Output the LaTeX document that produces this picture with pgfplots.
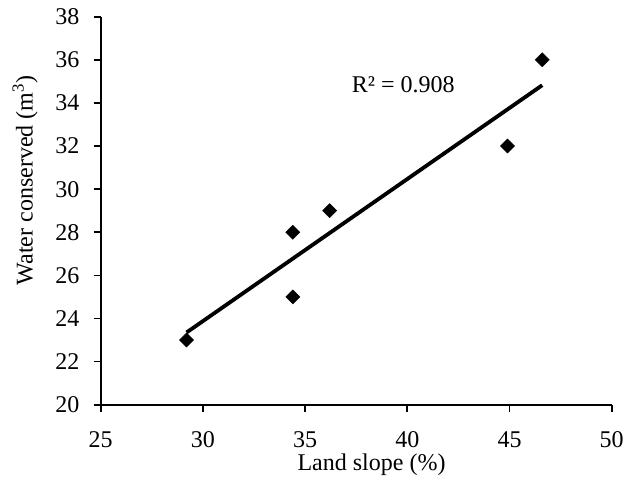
\documentclass[border=0pt]{standalone}
\usepackage{fontspec}
\setmainfont{Liberation Serif}
\usepackage{pgfplots}
\pgfplotsset{compat=1.18}

\begin{document}
\fontsize{24}{28}\selectfont
\begin{tikzpicture}
    % frame of the whole picture (1pt = 1px of the reference)
    \useasboundingbox (-100.7pt,-89.3pt) rectangle (535.3pt,404.7pt);
    \begin{axis}[
        at={(0,0)}, anchor=south west,
        scale only axis,
        width=511pt,
        height=388pt,
        xmin=25, xmax=50,
        ymin=20, ymax=38,
        xtick={25,30,...,50},
        ytick={20,22,...,38},
        axis lines=left,
        axis line style={-, line width=1.7pt, black},
        tick style={line width=1.7pt, black},
        tick align=outside,
        major tick length=7pt,
        clip=false,
        /pgf/number format/assume math mode=true,
        ticklabel style={font=\fontsize{24}{28}\selectfont},
        label style={font=\fontsize{24}{28}\selectfont},
        xticklabel style={yshift=-12pt},
        yticklabel style={xshift=-6pt},
        xlabel={Land slope (\%)},
        ylabel={Water conserved (m\textsuperscript{3})},
        xlabel style={at={(axis description cs:0.53,-0.155)}, anchor=center},
        ylabel style={at={(axis description cs:-0.148,0.578)}, anchor=center, rotate=0},
    ]
    % fitted trend line
    \addplot[black, line width=3.8pt] coordinates {(29.2,23.35) (46.6,34.82)};
    % observations
    \addplot[only marks, mark=square*, mark size=5pt, mark options={rotate=45, fill=black}, black] coordinates {
        (29.2,23.0) (34.4,28.0) (34.4,25.0) (36.2,29.0) (44.9,32.0) (46.6,36.0)
    };
    \node[font=\fontsize{24}{28}\selectfont] at (axis cs:39.8,34.85) {R² = 0.908};
    \end{axis}
\end{tikzpicture}
\end{document}
